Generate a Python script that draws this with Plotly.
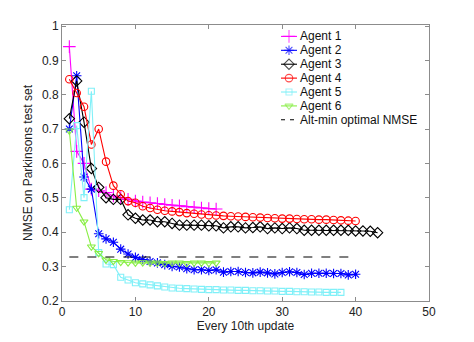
import plotly.graph_objects as go

agent1 = [0.94, 0.635, 0.60, 0.525, 0.52, 0.515, 0.505, 0.50, 0.495, 0.49, 0.487,
          0.485, 0.483, 0.48, 0.478, 0.476, 0.474, 0.472, 0.47, 0.468, 0.467]
agent2 = [0.70, 0.855, 0.56, 0.525, 0.395, 0.38, 0.37, 0.35, 0.336, 0.326, 0.32,
          0.314, 0.31, 0.305, 0.30, 0.298, 0.293, 0.29, 0.29, 0.288, 0.29, 0.283,
          0.285, 0.285, 0.282, 0.281, 0.283, 0.281, 0.278, 0.282, 0.284, 0.282,
          0.276, 0.28, 0.28, 0.28, 0.279, 0.279, 0.275, 0.277]
agent3 = [0.73, 0.84, 0.72, 0.585, 0.53, 0.50, 0.495, 0.495, 0.45, 0.44, 0.435,
          0.435, 0.43, 0.43, 0.425, 0.42, 0.42, 0.42, 0.42, 0.418, 0.418, 0.412,
          0.415, 0.415, 0.412, 0.413, 0.415, 0.41, 0.412, 0.41, 0.412, 0.41, 0.405,
          0.405, 0.405, 0.405, 0.405, 0.405, 0.405, 0.403, 0.403, 0.402, 0.398]
agent4 = [0.845, 0.805, 0.765, 0.655, 0.70, 0.605, 0.535, 0.51, 0.49, 0.485, 0.475,
          0.47, 0.465, 0.462, 0.46, 0.458, 0.455, 0.453, 0.451, 0.449, 0.448, 0.447,
          0.446, 0.445, 0.444, 0.443, 0.442, 0.441, 0.44, 0.439, 0.439, 0.438,
          0.437, 0.437, 0.436, 0.436, 0.435, 0.434, 0.433, 0.432]
agent5 = [0.465, 0.71, 0.50, 0.81, 0.34, 0.307, 0.305, 0.268, 0.26, 0.252, 0.249,
          0.246, 0.243, 0.24, 0.237, 0.236, 0.235, 0.234, 0.233, 0.232, 0.232,
          0.231, 0.231, 0.23, 0.23, 0.229, 0.229, 0.228, 0.228, 0.227, 0.227,
          0.226, 0.226, 0.225, 0.225, 0.224, 0.224, 0.224]
agent6 = [0.695, 0.47, 0.43, 0.357, 0.338, 0.319, 0.315, 0.312, 0.311, 0.31, 0.311,
          0.31, 0.31, 0.309, 0.31, 0.31, 0.309, 0.31, 0.31, 0.309, 0.31]
altmin_x = [1, 40]
altmin_y = [0.327, 0.327]

x_ticks = [0, 10, 20, 30, 40, 50]
y_ticks = [0.2, 0.3, 0.4, 0.5, 0.6, 0.7, 0.8, 0.9, 1]
y_ticklabels = ["0.2", "0.3", "0.4", "0.5", "0.6", "0.7", "0.8", "0.9", "1"]

series = [
    ("Agent 1", agent1, "#ff00ff", "cross-thin-open", 9),
    ("Agent 2", agent2, "#0000ff", "asterisk-open", 8),
    ("Agent 3", agent3, "#000000", "diamond-open", 8),
    ("Agent 4", agent4, "#ff0000", "circle-open", 7.5),
    ("Agent 5", agent5, "#80f0f8", "square-open", 6),
    ("Agent 6", agent6, "#88ee44", "triangle-down-open", 7),
]
FONT = "Liberation Sans, Arial"
LW = 1.1

fig = go.Figure()
for name, ys, color, sym, size in series:
    fig.add_trace(go.Scatter(
        x=list(range(1, len(ys) + 1)), y=ys, name=name, mode="lines+markers",
        line=dict(color=color, width=LW), showlegend=False,
        marker=dict(symbol=sym, size=size, color=color, line=dict(color=color, width=LW)),
    ))
fig.add_trace(go.Scatter(
    x=altmin_x, y=altmin_y, name="Alt-min optimal NMSE", mode="lines",
    line=dict(color="black", width=1.1, dash="dash"), showlegend=False,
))

# compact legend drawn on an overlaid helper axis (x2 range maps 0..1 to the sample span)
row0, step = 11.5, 14.0
for i, (name, ys, color, sym, size) in enumerate(series):
    yy = row0 + i * step
    fig.add_trace(go.Scatter(
        x=[0, 0.5, 1], y=[yy, yy, yy], xaxis="x2", yaxis="y2", mode="lines+markers",
        line=dict(color=color, width=LW), showlegend=False, hoverinfo="skip",
        marker=dict(symbol=sym, size=[0, size, 0], color=color,
                    line=dict(color=color, width=LW)),
    ))
    fig.add_annotation(text=name, xref="paper", yref="y2", x=0.6458, y=yy,
                       xanchor="left", yanchor="middle", showarrow=False, borderpad=0,
                       font=dict(family=FONT, size=12, color="#111"))
yy = row0 + len(series) * step
fig.add_trace(go.Scatter(
    x=[0, 1], y=[yy, yy], xaxis="x2", yaxis="y2", mode="lines",
    line=dict(color="black", width=1.1, dash="4px,5px"), showlegend=False, hoverinfo="skip",
))
fig.add_annotation(text="Alt-min optimal NMSE", xref="paper", yref="y2", x=0.6458, y=yy,
                   xanchor="left", yanchor="middle", showarrow=False, borderpad=0,
                   font=dict(family=FONT, size=12, color="#111"))

axis_common = dict(
    showline=True, mirror="ticks", linecolor="#8c8c8c", linewidth=1,
    ticks="inside", ticklen=4, tickcolor="#8c8c8c", showgrid=False, zeroline=False,
    tickfont=dict(family=FONT, size=12, color="#222"),
)
fig.update_xaxes(range=[0, 50], tickvals=x_ticks,
                 title=dict(text="Every 10th update", standoff=2,
                            font=dict(family=FONT, size=12, color="#222")),
                 **axis_common)
fig.update_yaxes(range=[0.199, 1.003], tickvals=y_ticks, ticktext=y_ticklabels,
                 ticklabeloverflow="allow",
                 title=dict(text="NMSE on Parkinsons test set", standoff=6,
                            font=dict(family=FONT, size=12, color="#222")),
                 **axis_common)

fig.update_layout(
    width=474, height=342,
    margin=dict(l=62, r=45, t=25, b=39),
    paper_bgcolor="white", plot_bgcolor="white",
    showlegend=False,
    xaxis2=dict(range=[-13.6875, 9.25], overlaying="x", anchor="y2",
                visible=False, fixedrange=True),
    yaxis2=dict(range=[278, 0], overlaying="y", anchor="x2",
                visible=False, fixedrange=True),
)

fig.write_html("out.html")
